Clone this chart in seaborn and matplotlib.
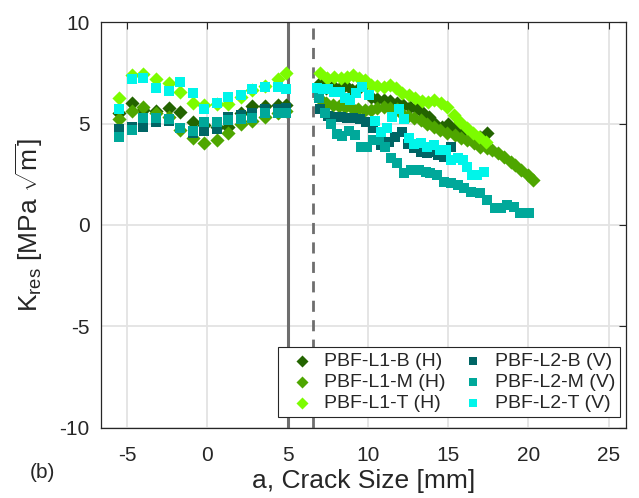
import numpy as np
import pandas as pd
import matplotlib
matplotlib.use("Agg")
import matplotlib.pyplot as plt
import seaborn as sns

# ---------------- data ----------------
x_left = [-5.5, -4.7, -4.0, -3.2, -2.4, -1.7, -0.9, -0.2, 0.6, 1.3, 2.1, 2.8, 3.6, 4.4, 4.9]

l1b_k_left = [5.5, 6.03, 5.65, 5.6, 5.78, 5.58, 5.09, 4.95, 4.85, 4.84, 5.5, 5.88, 5.88, 5.91, 5.91]
l1m_k_left = [5.2, 5.62, 5.83, 5.5, 5.34, 4.68, 4.27, 4.05, 4.19, 4.52, 4.96, 5.1, 5.34, 5.5, 5.6]
l1t_k_left = [6.24, 7.39, 7.42, 7.19, 7.01, 6.54, 6.03, 5.91, 5.96, 5.96, 6.29, 6.65, 6.86, 7.18, 7.47]
l2b_k_left = [4.71, 4.84, 4.84, 5.06, 5.1, 4.8, 4.55, 4.63, 4.71, 5.34, 5.42, 5.53, 5.7, 5.7, 5.75]
l2m_k_left = [4.35, 4.68, 5.29, 5.29, 5.22, 4.79, 4.63, 5.09, 5.09, 5.17, 5.22, 5.26, 5.53, 5.5, 5.5]
l2t_k_left = [5.71, 7.19, 7.26, 6.76, 6.6, 7.06, 6.52, 5.71, 6.03, 6.32, 6.42, 6.7, 6.78, 6.78, 6.68]

l1b_a_right = [7.0, 7.4, 7.8, 8.2, 8.6, 9.0, 9.4, 9.8, 10.2, 10.6, 11.0, 11.4, 11.8, 12.2,
               12.6, 13.0, 13.4, 13.8, 14.2, 14.6, 15.0, 15.4, 15.8, 16.2, 16.6, 17.0, 17.45]
l1b_k_right = [7.0, 6.75, 6.85, 6.7, 6.9, 6.65, 6.7, 6.95, 6.3, 6.2, 6.15, 6.1, 6.0, 5.9,
               5.83, 5.75, 5.58, 5.3, 5.0, 4.84, 5.0, 4.76, 4.6, 4.43, 4.27, 4.35, 4.52]

l1m_a_right = [7.0, 7.4, 7.8, 8.2, 8.6, 9.0, 9.4, 9.8, 10.2, 10.6, 11.0, 11.4, 11.8, 12.05,
               12.5, 12.9, 13.3, 13.7, 14.1, 14.5, 14.95, 15.4, 15.8, 16.2, 16.6, 17.0, 17.4,
               17.75, 18.1, 18.5, 18.9, 19.2, 19.55, 19.95, 20.3]
l1m_k_right = [6.19, 6.0, 5.9, 5.85, 5.8, 5.75, 5.7, 5.65, 5.65, 5.75, 5.8, 5.75, 5.7, 5.5,
               5.35, 5.26, 5.17, 5.0, 4.84, 4.68, 4.52, 4.43, 4.27, 4.19, 4.02, 3.86, 3.78,
               3.7, 3.53, 3.37, 3.12, 2.96, 2.71, 2.46, 2.22]

l1t_a_right = [7.0, 7.45, 7.9, 8.3, 8.7, 9.05, 9.45, 9.8, 10.2, 10.6, 11.0, 11.35, 11.75, 12.15,
               12.55, 12.95, 13.35, 13.75, 14.15, 14.55, 14.95, 15.35, 15.75, 16.15, 16.55, 16.95, 17.35]
l1t_k_right = [7.47, 7.22, 7.3, 7.22, 7.3, 7.39, 7.22, 7.14, 6.9, 6.85, 6.8, 6.9, 6.75, 6.5,
               6.4, 6.25, 6.1, 6.07, 6.16, 6.0, 5.8, 5.4, 5.05, 4.78, 4.52, 4.35, 4.1]

l2b_a_right = [7.0, 7.5, 7.9, 8.3, 8.7, 9.1, 9.5, 9.87, 10.3, 10.8, 11.3, 11.7, 12.15, 12.5,
               12.9, 13.3, 13.7, 14.05, 14.4, 14.75, 15.2]
l2b_k_right = [5.71, 5.37, 5.33, 5.3, 5.28, 5.26, 5.2, 5.09, 4.76, 3.94, 4.1, 4.32, 4.6, 4.0,
               3.78, 3.61, 3.53, 3.6, 3.45, 3.37, 3.83]

l2m_a_right = [6.96, 7.3, 7.7, 8.06, 8.4, 8.83, 9.2, 9.56, 9.97, 10.35, 10.7, 11.05, 11.43, 11.8,
               12.26, 12.7, 13.2, 13.6, 13.9, 14.3, 14.75, 15.2, 15.6, 16.0, 16.4, 17.0, 17.45,
               17.9, 18.3, 18.7, 19.1, 19.5, 20.05]
l2m_k_right = [6.24, 5.5, 5.0, 4.48, 4.38, 4.64, 4.43, 3.86, 3.83, 4.19, 4.19, 3.83, 3.28, 3.04,
               2.58, 2.71, 2.71, 2.63, 2.58, 2.46, 2.13, 2.05, 1.97, 1.81, 1.64, 1.56, 1.23,
               0.82, 0.82, 0.99, 0.9, 0.58, 0.6]

l2t_a_right = [6.86, 7.2, 7.5, 7.9, 8.25, 8.6, 8.9, 9.25, 9.66, 10.07, 10.43, 10.8, 11.2, 11.5,
               11.95, 12.26, 12.57, 12.9, 13.3, 13.7, 14.1, 14.5, 14.85, 15.2, 15.6, 15.9, 16.2,
               16.5, 16.8, 17.25]
l2t_k_right = [6.73, 6.7, 6.7, 6.57, 6.55, 6.24, 6.16, 6.5, 6.82, 6.4, 5.14, 4.6, 4.76, 5.34,
               5.7, 5.2, 4.3, 4.0, 4.02, 3.86, 3.94, 3.7, 3.7, 3.2, 3.28, 3.2, 2.87,
               2.46, 2.46, 2.63]

series_names = ["PBF-L1-B (H)", "PBF-L1-M (H)", "PBF-L1-T (H)",
                "PBF-L2-B (V)", "PBF-L2-M (V)", "PBF-L2-T (V)"]
series_colors = ["#236400", "#4ea600", "#7cfc00", "#006565", "#00a89a", "#00f5ea"]
series_markers = ["D", "D", "D", "s", "s", "s"]

x_ticks = [-5, 0, 5, 10, 15, 20, 25]
y_ticks = [-10, -5, 0, 5, 10]
line_solid_x = 5.0
line_dashed_x = 6.56

# ---------------- build table ----------------
lefts = [l1b_k_left, l1m_k_left, l1t_k_left, l2b_k_left, l2m_k_left, l2t_k_left]
rights_a = [l1b_a_right, l1m_a_right, l1t_a_right, l2b_a_right, l2m_a_right, l2t_a_right]
rights_k = [l1b_k_right, l1m_k_right, l1t_k_right, l2b_k_right, l2m_k_right, l2t_k_right]
rows = []
for name, kl, ar, kr in zip(series_names, lefts, rights_a, rights_k):
    for a, k in zip(x_left + ar, kl + kr):
        rows.append((name, a, k))
df = pd.DataFrame(rows, columns=["series", "a", "K"])

# ---------------- plot ----------------
sns.set_style("white")
plt.rcParams["font.family"] = ["Liberation Sans", "DejaVu Sans"]
plt.rcParams["mathtext.fontset"] = "custom"
plt.rcParams["mathtext.rm"] = "Liberation Sans"
plt.rcParams["mathtext.it"] = "Liberation Sans:italic"
plt.rcParams["axes.unicode_minus"] = False

fig = plt.figure(figsize=(6.39, 4.98), dpi=100)
ax = fig.add_axes([0.1575, 0.1406, 0.8225, 0.8152])

ax.set_axisbelow(True)
ax.grid(True, color="#e3e3e3", linewidth=1.3)

for name, col, mk in zip(series_names, series_colors, series_markers):
    sub = df[df["series"] == name]
    sz = 52 if mk == "D" else 42
    sns.scatterplot(data=sub, x="a", y="K", ax=ax, color=col, marker=mk,
                    s=sz, linewidth=0, label=name, zorder=3)

ax.axvline(line_solid_x, color="#6e6e6e", linewidth=2.2, zorder=2)
ax.axvline(line_dashed_x, color="#6e6e6e", linewidth=2.0, linestyle=(0, (4, 3)), zorder=2)

ax.set_xlim(-6.65, 26.1)
ax.set_ylim(-10, 10)
ax.set_xticks(x_ticks)
ax.set_yticks(y_ticks)
ax.tick_params(direction="in", length=5, width=0.8, labelsize=15, colors="#262626",
               top=True, right=True)
ax.tick_params(axis="y", pad=8)
ax.tick_params(axis="x", pad=13)
for sp in ax.spines.values():
    sp.set_color("#262626")
    sp.set_linewidth(0.9)

ax.set_xlabel("a, Crack Size [mm]", fontsize=19, color="#262626", labelpad=3)
ax.set_ylabel(r"K$_{\mathrm{res}}$ [MPa $\sqrt{\mathrm{m}}$]", fontsize=19, color="#262626",
              labelpad=10)

leg = ax.legend(loc="lower right", bbox_to_anchor=(0.9886, 0.027), ncol=2, fontsize=14,
                frameon=True, fancybox=False, edgecolor="#262626", framealpha=1,
                handletextpad=0.2, columnspacing=0.45, labelspacing=0.18,
                borderpad=0.25, borderaxespad=0.0, handlelength=1.9, markerscale=0.85)
leg.get_frame().set_linewidth(0.8)

fig.text(0.067, 0.052, "(b)", fontsize=15, ha="center", va="center", color="#262626")

fig.savefig("out.png", dpi=100)
